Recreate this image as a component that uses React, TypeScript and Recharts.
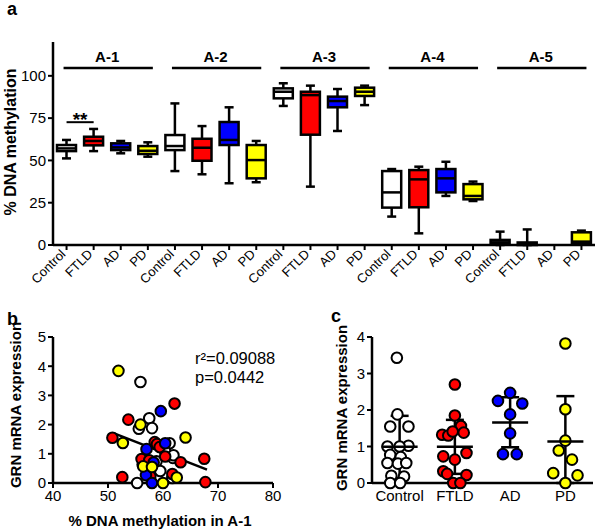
import { Bar, ComposedChart, ErrorBar, ReferenceLine, Scatter, ScatterChart, XAxis, YAxis } from 'recharts';

const regions = ['A-1', 'A-2', 'A-3', 'A-4', 'A-5'];
const groups = ['Control', 'FTLD', 'AD', 'PD'];
const groupColors = ['#ffffff', '#ff0000', '#0000ff', '#ffff00'];

// box stats per region: [min, q1, median, q3, max] for Control, FTLD, AD, PD
const a1Stats = [[51.2, 55.5, 57.1, 59.1, 62.1], [55.5, 58.9, 61.5, 64, 68.6], [54.2, 56.1, 57.7, 60.1, 61.5], [52.2, 53.8, 55.7, 58.5, 60.7]];
const a2Stats = [[43.7, 56.1, 58.5, 65, 83.7], [41.8, 49.8, 57.5, 62.8, 70.3], [36.5, 59.1, 62.1, 72.7, 81.4], [37.1, 39.4, 50.2, 59.1, 61.5]];
const a3Stats = [[82.2, 86.7, 90.6, 92.6, 95.6], [34.5, 65.2, 88.6, 90.6, 94.2], [67.4, 81.4, 85.1, 87.7, 92.2], [82.7, 88.1, 90.6, 93, 94.2]];
const a4Stats = [[16.8, 22.1, 31.1, 43.7, 44.9], [6.9, 22.3, 38.8, 44.3, 46.3], [29, 31.1, 39.4, 44.9, 49.2], [26, 27, 29, 36, 37.5]];
const a5Stats = [[0, 0.5, 1.6, 3, 7.9], [0, 0, 0.5, 1.5, 9.2], null, [0.5, 1, 2, 7.5, 8.5]];
const regionStats = [a1Stats, a2Stats, a3Stats, a4Stats, a5Stats];

const bracketLevel = 104.7;
const sigLevel = 72.6;

// panel b: [% methylation A-1, GRN expression]
const bControl = [[55.9, 3.46], [57.5, 2.22], [55.6, 1.86], [58.0, 1.88], [61.2, 1.36], [61.8, 0.86], [60.4, 1.08], [61.9, 0.95], [58.8, 0.74], [56.3, 0.63], [59.5, 0.41], [61.7, 0.17], [55.3, 0.0]];
const bFtld = [[62.1, 2.72], [53.7, 2.17], [50.8, 1.55], [58.5, 1.4], [58.9, 1.33], [59.4, 1.23], [60.4, 0.91], [63.2, 0.71], [67.5, 0.83], [56.1, 0.82], [57.5, 0.78], [61.7, 0.31], [57.7, 0.23], [52.6, 0.2], [67.7, 0.03]];
const bAd = [[59.6, 2.46], [60.4, 1.36], [57.0, 1.16], [58.3, 0.7], [56.9, 0.27], [58.0, 0.0]];
const bPd = [[51.9, 3.84], [55.9, 2.0], [52.7, 1.37], [64.1, 1.56], [56.4, 0.57], [58.0, 0.55], [62.5, 0.19], [60.0, 0.0]];
const bFit = [[51, 1.71], [68, 0.46]];
const bStats = ['r²=0.09088', 'p=0.0442'];

// panel c: [jitter offset from group, GRN expression]
const cControl = [[-0.05, 3.43], [-0.04, 1.88], [-0.17, 1.55], [0.16, 1.55], [-0.22, 1.0], [0.16, 1.02], [0, 1.0], [-0.17, 0.77], [0.02, 0.71], [-0.22, 0.55], [-0.03, 0.53], [0.12, 0.55], [-0.15, 0.2], [0.08, 0.18], [-0.17, 0.0], [0.01, 0.0]];
const cFtld = [[0, 2.7], [0, 1.85], [-0.23, 1.32], [-0.12, 1.3], [0.11, 1.56], [0.16, 1.38], [-0.04, 1.41], [0.21, 0.82], [-0.21, 0.73], [0, 0.64], [-0.21, 0.32], [-0.14, 0.25], [0.21, 0.22], [-0.03, 0.0], [0.1, 0.0]];
const cAd = [[0, 2.47], [-0.22, 2.25], [0.22, 2.18], [0, 1.88], [0, 1.36], [-0.13, 0.79], [0.12, 0.79]];
const cPd = [[0, 3.82], [0, 2.02], [0, 1.16], [-0.12, 0.89], [0.12, 0.64], [-0.22, 0.27], [0.22, 0.21], [0, 0.0]];
const cMeans = [0.99, 0.99, 1.66, 1.14];
const cSdLow = [0.85, 0.74, 0.68, 1.14];
const cSdHigh = [0.85, 0.74, 0.69, 1.24];

const font = 'Arial, "Liberation Sans", sans-serif';

const boxData = regions.flatMap((r, ri) =>
  groups.map((g, gi) => {
    const s = regionStats[ri][gi];
    return { key: `${r}|${g}`, range: s ? [s[0], s[4]] : null, stats: s, color: groupColors[gi] };
  })
);

const toPts = (arr: number[][]) => arr.map(([x, y]) => ({ x, y }));
const cPts = (arr: number[][], gi: number) => arr.map(([dx, y]) => ({ x: gi + 1 + dx, y }));
const meanData = cMeans.map((m, i) => ({ x: i + 1, y: m, err: [cSdLow[i], cSdHigh[i]] }));

function BoxShape(props: any) {
  const { x, y, width, height, payload } = props;
  const stats = payload?.stats;
  if (!stats) return null;
  const [min, q1, med, q3, max] = stats;
  const top = Math.min(y, y + height);
  const bottom = Math.max(y, y + height);
  const span = max - min || 1;
  const py = (v: number) => bottom - ((v - min) / span) * (bottom - top);
  const cx = x + width / 2;
  const cap = 4.5;
  return (
    <g stroke="#000" strokeWidth={2.5}>
      <line x1={cx} x2={cx} y1={py(max)} y2={py(min)} />
      <line x1={cx - cap} x2={cx + cap} y1={py(max)} y2={py(max)} />
      <line x1={cx - cap} x2={cx + cap} y1={py(min)} y2={py(min)} />
      <rect x={x} y={py(q3)} width={width} height={Math.max(py(q1) - py(q3), 1)} fill={payload.color} />
      <line x1={x} x2={x + width} y1={py(med)} y2={py(med)} />
    </g>
  );
}

function AngledTick(props: any) {
  const { x, y, payload } = props;
  const label = String(payload.value).split('|')[1];
  return (
    <g transform={`translate(${x - 3},${y})`}>
      <text x={0} y={0} dy={4} textAnchor="end" fontSize={13} fill="#000" fontFamily={font} transform="rotate(-45)">
        {label}
      </text>
    </g>
  );
}

const bracketShape = (p: any) => (
  <line x1={p.x1 - 3} x2={p.x2 + 5} y1={p.y1} y2={p.y2} stroke="#000" strokeWidth={2.5} />
);

const dot = (color: string) => (p: any) => (
  <circle cx={p.cx} cy={p.cy} r={5.3} fill={color} stroke="#000" strokeWidth={2} />
);

const meanBar = (p: any) => <line x1={p.cx - 18} x2={p.cx + 18} y1={p.cy} y2={p.cy} stroke="#000" strokeWidth={2.5} />;
const noDot = () => <g />;

const axisLine = { stroke: '#000', strokeWidth: 2.5 };
const tickLine = { stroke: '#000', strokeWidth: 2 };
const tickStyle = { fontSize: 15, fill: '#000', fontFamily: font };

const abs = (left: number, top: number, extra: any = {}) => ({ position: 'absolute' as const, left, top, ...extra });
const vTitle = (cx: number, cy: number, size: number) =>
  abs(cx, cy, { transform: 'translate(-50%, -50%) rotate(-90deg)', fontWeight: 'bold', fontSize: size, whiteSpace: 'nowrap', lineHeight: 1 });

export default function App() {
  return (
    <div style={{ position: 'absolute', left: 0, top: 0, width: 600, height: 530, background: '#fff', fontFamily: font, color: '#000' }}>
      <div style={abs(0, 0)}>
        <ComposedChart width={600} height={300} data={boxData} margin={{ top: 42, right: 5, left: 8, bottom: 5 }}>
          <XAxis dataKey="key" interval={0} height={50} tick={<AngledTick />} axisLine={axisLine} tickLine={tickLine} tickSize={5} />
          <YAxis
            domain={[0, 120]}
            ticks={[0, 25, 50, 75, 100]}
            width={45}
            tick={tickStyle}
            axisLine={axisLine}
            tickLine={tickLine}
            tickSize={5}
          />
          <Bar dataKey="range" barSize={19} shape={<BoxShape />} isAnimationActive={false} />
          {regions.map((r) => (
            <ReferenceLine
              key={r}
              segment={[{ x: `${r}|Control`, y: bracketLevel }, { x: `${r}|PD`, y: bracketLevel }]}
              shape={bracketShape}
              label={{ value: r, position: 'top', offset: 6, fontSize: 15, fontWeight: 'bold', fill: '#000', fontFamily: font }}
            />
          ))}
          <ReferenceLine
            segment={[{ x: 'A-1|Control', y: sigLevel }, { x: 'A-1|FTLD', y: sigLevel }]}
            stroke="#000"
            strokeWidth={2}
            label={{ value: '**', position: 'top', offset: -4, fontSize: 19, fontWeight: 'bold', fill: '#000', fontFamily: font }}
          />
        </ComposedChart>
      </div>

      <div style={abs(7, 0, { fontWeight: 'bold', fontSize: 18, lineHeight: 1 })}>a</div>
      <div style={vTitle(11, 142, 16)}>% DNA methylation</div>

      <div style={abs(0, 310)}>
        <ScatterChart width={300} height={220} margin={{ top: 27, right: 27, left: 8, bottom: 17 }}>
          <XAxis type="number" dataKey="x" domain={[40, 80]} ticks={[40, 50, 60, 70, 80]} height={30} tick={tickStyle} axisLine={axisLine} tickLine={tickLine} tickSize={5} />
          <YAxis type="number" dataKey="y" domain={[0, 5]} ticks={[0, 1, 2, 3, 4, 5]} width={45} tick={tickStyle} axisLine={axisLine} tickLine={tickLine} tickSize={5} />
          <Scatter data={toPts(bFit)} line={{ stroke: '#000', strokeWidth: 2.5 }} shape={noDot} isAnimationActive={false} />
          <Scatter data={toPts(bControl)} shape={dot(groupColors[0])} isAnimationActive={false} />
          <Scatter data={toPts(bFtld)} shape={dot(groupColors[1])} isAnimationActive={false} />
          <Scatter data={toPts(bAd)} shape={dot(groupColors[2])} isAnimationActive={false} />
          <Scatter data={toPts(bPd)} shape={dot(groupColors[3])} isAnimationActive={false} />
        </ScatterChart>
      </div>

      <div style={abs(7, 310, { fontWeight: 'bold', fontSize: 18, lineHeight: 1 })}>b</div>
      <div style={vTitle(14.5, 405, 15)}>GRN mRNA expression</div>
      <div style={abs(160, 520, { transform: 'translate(-50%, -50%)', fontWeight: 'bold', fontSize: 15, whiteSpace: 'nowrap', lineHeight: 1 })}>
        % DNA methylation in A-1
      </div>
      {bStats.map((s, i) => (
        <div key={s} style={abs(195, 350 + i * 18.5, { fontSize: 16.5, lineHeight: '17px', whiteSpace: 'nowrap' })}>
          {s}
        </div>
      ))}

      <div style={abs(300, 310)}>
        <ScatterChart width={300} height={220} margin={{ top: 27, right: 7, left: 27, bottom: 17 }}>
          <XAxis
            type="number"
            dataKey="x"
            domain={[0.5, 4.5]}
            ticks={[1, 2, 3, 4]}
            tickFormatter={(v: number) => groups[v - 1]}
            height={30}
            tick={tickStyle}
            axisLine={axisLine}
            tickLine={false}
            tickSize={5}
          />
          <YAxis type="number" dataKey="y" domain={[0, 4]} ticks={[0, 1, 2, 3, 4]} width={45} tick={tickStyle} axisLine={axisLine} tickLine={tickLine} tickSize={5} />
          <Scatter data={cPts(cControl, 0)} shape={dot(groupColors[0])} isAnimationActive={false} />
          <Scatter data={cPts(cFtld, 1)} shape={dot(groupColors[1])} isAnimationActive={false} />
          <Scatter data={cPts(cAd, 2)} shape={dot(groupColors[2])} isAnimationActive={false} />
          <Scatter data={cPts(cPd, 3)} shape={dot(groupColors[3])} isAnimationActive={false} />
          <Scatter data={meanData} shape={meanBar} isAnimationActive={false}>
            <ErrorBar dataKey="err" direction="y" width={9} stroke="#000" strokeWidth={2.5} />
          </Scatter>
        </ScatterChart>
      </div>

      <div style={abs(331, 307, { fontWeight: 'bold', fontSize: 18, lineHeight: 1 })}>c</div>
      <div style={vTitle(341, 408, 15)}>GRN mRNA expression</div>
    </div>
  );
}
